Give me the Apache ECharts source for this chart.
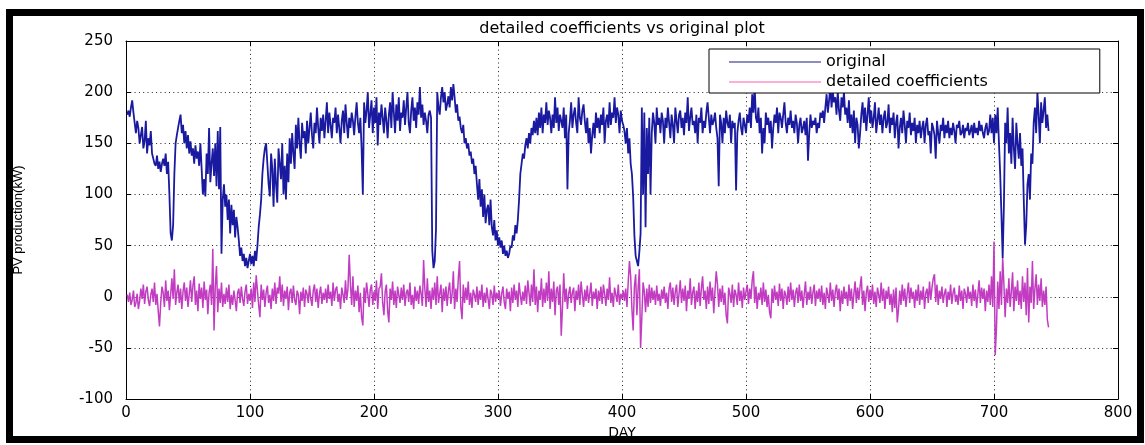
<!DOCTYPE html>
<html><head><meta charset="utf-8">
<script src="https://cdn.jsdelivr.net/npm/echarts@6/dist/echarts.min.js"></script>
<style>html,body{margin:0;padding:0;background:#fff}#c{width:1145px;height:445px}</style>
</head><body><div id="c"></div>
<script>
const xTicks = [0,100,200,300,400,500,600,700,800];
const yTicks = [-100,-50,0,50,100,150,200,250];
const seriesNames = ['original','detailed coefficients'];
const original = [
178,182,176,185,192,180,170,160,172,165,
150,158,166,145,152,172,140,155,148,162,
140,135,130,128,138,125,132,122,130,135,
128,140,120,132,100,62,55,70,120,150,
158,165,172,178,160,168,150,162,145,158,
140,152,138,145,130,148,135,142,128,150,
125,100,115,98,140,120,165,112,130,145,
118,150,108,162,105,166,42,95,110,88,
100,75,95,62,90,70,85,58,78,68,
55,40,48,35,42,30,38,28,35,42,
32,40,30,45,35,50,68,80,95,120,
135,145,150,130,110,98,140,125,88,135,
110,92,145,130,115,150,100,128,95,140,
112,155,130,160,140,125,168,145,175,150,
135,170,155,162,140,172,150,165,180,158,
145,170,160,185,165,150,175,162,178,155,
172,190,160,180,168,155,175,170,185,160,
178,165,150,172,182,160,188,170,155,175,
165,180,172,158,176,190,170,160,175,145,
100,190,170,182,200,165,178,192,160,185,
170,195,148,180,168,188,175,160,185,172,
155,178,190,165,200,180,160,188,172,195,
162,180,175,192,168,185,200,170,160,182,
195,172,185,165,190,178,205,175,188,168,
180,172,160,178,182,175,45,28,35,66,
200,185,178,195,205,190,200,182,188,196,
185,205,192,208,195,180,188,172,176,165,
160,168,150,155,145,150,138,142,130,135,
120,128,110,95,115,88,105,78,100,72,
85,90,70,95,68,60,75,55,65,50,
58,48,55,42,50,40,45,38,42,50,
48,60,55,70,62,75,95,120,130,140,
135,148,155,145,160,150,165,158,172,160,
175,158,180,165,185,160,178,170,190,168,
182,175,160,178,165,195,170,185,162,178,
172,165,185,155,178,105,160,172,190,165,
178,185,170,160,195,175,168,182,188,172,
160,175,150,165,140,158,170,155,180,165,
175,160,178,168,185,150,172,178,165,190,
168,180,175,195,170,185,178,160,182,172,
168,162,150,165,140,155,130,120,98,60,
40,35,30,44,62,185,100,180,68,165,
120,175,100,160,180,170,150,185,168,175,
160,180,172,150,175,165,185,170,155,178,
168,150,185,172,160,178,182,165,175,158,
180,170,195,162,175,185,168,172,160,178,
150,175,170,185,160,172,165,180,190,175,
160,178,168,172,180,165,155,108,178,170,
150,175,160,182,170,165,178,150,172,165,
170,104,160,172,180,165,158,175,168,160,
178,170,185,165,198,180,205,175,170,185,
160,175,140,165,150,180,168,175,160,172,
145,165,178,170,185,160,180,175,165,178,
190,170,160,175,168,182,165,172,160,178,
170,150,168,175,160,165,172,158,175,133,
160,178,165,172,168,175,160,170,165,180,
175,182,170,185,198,180,192,205,185,200,
190,195,178,200,182,172,195,185,200,178,
185,170,192,165,178,160,182,150,175,168,
145,160,178,190,170,185,162,178,195,170,
182,165,175,190,160,172,185,168,178,160,
175,182,165,170,188,160,175,168,180,155,
170,178,145,165,175,160,182,168,150,172,
165,180,158,170,162,175,150,168,160,172,
155,165,172,150,168,175,158,162,140,170,
165,158,135,172,160,150,168,162,175,155,
168,160,172,155,165,158,170,162,150,168,
165,172,158,160,168,155,165,162,170,158,
162,168,155,170,160,165,158,172,162,168,
160,155,165,170,158,162,178,160,175,150,
178,160,185,150,120,80,38,90,170,150,
185,140,160,130,175,145,125,170,150,135,
160,128,145,95,51,70,110,120,95,140,
130,170,185,160,200,178,150,190,170,182,
195,165,178,162
];
const detailed = [
2,-5,4,-8,-3,6,-10,-6,3,-12,-4,8,-2,12,-7,5,10,-3,-9,2,
8,-5,14,-8,3,-14,-29,-6,10,4,-10,16,-4,6,-13,2,18,-2,27,-8,
4,12,-6,8,-12,5,14,-4,9,-10,3,16,-5,11,20,-8,6,-14,13,-2,
9,-11,15,-3,7,-17,4,12,-8,47,-33,10,30,-15,8,-6,14,-10,3,-7,
9,-5,12,-12,2,-8,6,-3,-14,4,8,-6,10,-2,-9,5,12,-7,3,-4,
8,-11,14,-5,21,6,-8,-20,12,-3,7,-10,4,11,-6,2,-12,8,-4,14,
-7,9,3,20,-5,12,-9,6,-2,10,-13,4,8,-6,11,-3,-8,6,2,-17,
5,-4,9,-10,7,3,-6,11,-2,-9,6,12,-5,8,-11,3,10,-7,4,-3,
8,-6,12,-2,5,-9,14,-4,7,10,-5,3,-12,9,2,-6,16,-3,8,41,
12,-8,20,-10,6,-4,11,-15,4,-20,-28,9,-6,14,3,-10,7,12,-8,5,
-4,16,-12,8,10,23,-6,-18,5,12,-14,-25,8,-3,15,-8,6,-11,10,2,
-6,9,-3,12,-9,4,7,-5,14,-8,2,-12,10,-4,6,-7,11,3,-9,36,
8,-10,18,-5,6,-12,9,-3,14,-8,20,-6,3,12,-15,8,-4,10,-9,6,
14,-7,3,25,-12,8,-5,18,35,-10,-22,12,-6,9,-3,15,-8,4,-11,7,
2,-5,10,-8,6,-3,12,-10,4,-6,9,-2,-12,7,3,-8,11,-5,4,-2,
6,-9,3,10,-5,-12,8,-2,5,-14,9,-6,12,-3,6,-10,14,2,-8,5,
-4,11,-7,16,4,-9,12,-5,27,-8,10,-15,6,-3,18,-10,8,-6,14,-4,
25,-12,8,-5,15,-18,6,10,-8,12,-38,-10,23,-5,8,-12,3,10,-6,4,
9,-14,6,-3,12,-8,15,2,-10,7,-4,11,-6,3,14,-9,5,-2,8,-12,
6,-4,10,-7,12,3,-9,8,-3,19,-6,4,-10,9,2,-5,12,-8,3,-2,
6,-4,8,-10,14,35,20,-12,-33,10,22,-18,8,27,-50,-20,14,5,-15,8,
-10,12,-6,9,-3,6,-8,11,-4,3,-9,7,-2,10,-6,4,-12,8,14,-5,
9,-8,5,12,-10,3,16,-6,8,-4,11,-14,6,-2,18,-8,4,10,-12,6,
-5,14,-9,8,20,-3,6,-12,10,-7,15,-4,9,-16,6,25,12,-10,8,-5,
11,-8,4,-18,-26,9,3,-6,12,-10,7,2,-8,14,-4,6,-11,9,-3,5,
12,-7,8,-2,16,25,-6,10,-12,4,-3,9,-8,14,-5,7,-10,2,-15,-21,
8,-6,11,-3,5,-9,13,-4,8,-12,6,2,-8,10,-5,14,-3,7,-10,4,
9,-6,12,-4,6,-11,3,15,-8,5,-3,10,-7,4,12,-9,6,-2,8,-5,
11,-8,4,-12,9,2,-6,14,-4,7,-10,5,12,-3,8,-14,6,-7,10,-2,
5,-9,12,-4,8,-12,3,15,-6,9,-3,10,20,-8,6,-14,4,11,-5,7,
-3,12,-7,5,-10,9,2,-6,14,-4,8,-12,6,-2,10,-8,3,-15,7,-11,
9,-25,-12,6,-8,12,-4,8,-10,3,14,-6,9,-2,5,-11,7,-4,12,-8,
6,-3,10,-12,4,8,-6,15,-3,9,18,22,-5,12,-8,6,-2,10,-6,3,
8,-10,5,-3,12,-7,4,9,-5,2,-8,11,-4,6,-12,8,3,-6,10,-2,
5,-9,12,-4,7,-11,3,16,-6,9,-2,8,-14,6,-5,12,-8,20,-10,54,
-57,-30,15,-12,25,-8,38,12,-20,8,-6,18,-10,5,24,-14,10,-4,16,-8,
6,-12,20,-5,14,-18,28,-25,10,-6,35,-12,8,22,-8,12,-4,18,-10,6,
-8,10,-22,-30
];

const chart = echarts.init(document.getElementById('c'), null, {renderer: 'canvas'});
const xMin = xTicks[0], xMax = xTicks[xTicks.length - 1], xStep = xTicks[1] - xTicks[0];
const yMin = yTicks[0], yMax = yTicks[yTicks.length - 1], yStep = yTicks[1] - yTicks[0];
const axisLineStyle = {color: '#000', width: 1};
const tickFont = {color: '#000', fontFamily: 'DejaVu Sans', fontSize: 15};
const dotted = {color: '#222', width: 1, type: [1, 3.3]};

chart.setOption({
  animation: false,
  backgroundColor: '#fff',
  title: {
    text: 'detailed coefficients vs original plot',
    left: 622, top: 21, textAlign: 'center', padding: 0,
    textStyle: {fontFamily: 'DejaVu Sans', fontSize: 16, fontWeight: 'normal', color: '#000'}
  },
  legend: {
    orient: 'vertical', left: 709, top: 49, z: 10,
    padding: [5, 112, 3, 20], itemGap: 4,
    itemWidth: 92, itemHeight: 1,
    backgroundColor: '#fff', borderColor: '#000', borderWidth: 1, borderRadius: 0,
    textStyle: {fontFamily: 'DejaVu Sans', fontSize: 16, color: '#000'},
    data: [
      {name: seriesNames[0], icon: 'rect', itemStyle: {color: '#1a1a80'}},
      {name: seriesNames[1], icon: 'rect', itemStyle: {color: '#ff5faf'}}
    ]
  },
  grid: {left: 126, right: 27, top: 41, bottom: 39, show: false},
  xAxis: [{
    type: 'value', min: xMin, max: xMax, interval: xStep, position: 'bottom',
    name: 'DAY', nameLocation: 'middle', nameGap: 26,
    nameTextStyle: {fontFamily: 'DejaVu Sans', fontSize: 14, color: '#000'},
    axisLine: {show: true, onZero: false, lineStyle: axisLineStyle},
    axisTick: {show: true, inside: true, length: 5, lineStyle: axisLineStyle},
    axisLabel: Object.assign({margin: 7}, tickFont),
    splitLine: {show: true, lineStyle: dotted}
  }, {
    type: 'value', min: xMin, max: xMax, interval: xStep, position: 'top',
    axisLine: {show: true, onZero: false, lineStyle: axisLineStyle},
    axisTick: {show: true, inside: true, length: 5, lineStyle: axisLineStyle},
    axisLabel: {show: false}, splitLine: {show: false}
  }],
  yAxis: [{
    type: 'value', min: yMin, max: yMax, interval: yStep, position: 'left',
    name: 'PV production(kW)', nameLocation: 'middle', nameGap: 101,
    nameTextStyle: {fontFamily: 'Liberation Sans', fontSize: 13, color: '#000'},
    axisLine: {show: true, onZero: false, lineStyle: axisLineStyle},
    axisTick: {show: true, inside: true, length: 5, lineStyle: axisLineStyle},
    axisLabel: Object.assign({margin: 13}, tickFont),
    splitLine: {show: true, lineStyle: dotted}
  }, {
    type: 'value', min: yMin, max: yMax, interval: yStep, position: 'right',
    axisLine: {show: true, onZero: false, lineStyle: axisLineStyle},
    axisTick: {show: true, inside: true, length: 5, lineStyle: axisLineStyle},
    axisLabel: {show: false}, splitLine: {show: false}
  }],
  series: [{
    name: seriesNames[0], type: 'line', xAxisIndex: 0, yAxisIndex: 0,
    showSymbol: false, symbol: 'none',
    lineStyle: {color: '#1a1aa0', width: 1.8},
    itemStyle: {color: '#1a1aa0'},
    data: original.map((v, i) => [i + 1, v]), z: 2
  }, {
    name: seriesNames[1], type: 'line', xAxisIndex: 0, yAxisIndex: 0,
    showSymbol: false, symbol: 'none',
    lineStyle: {color: '#c23cc2', width: 1.5},
    itemStyle: {color: '#c23cc2'},
    data: detailed.map((v, i) => [i + 1, v]), z: 1
  }],
  graphic: [{
    type: 'rect', silent: true, z: 100,
    shape: {x: 9.5, y: 12.5, width: 1131, height: 427},
    style: {fill: 'none', stroke: '#000', lineWidth: 7}
  }]
});
</script></body></html>
